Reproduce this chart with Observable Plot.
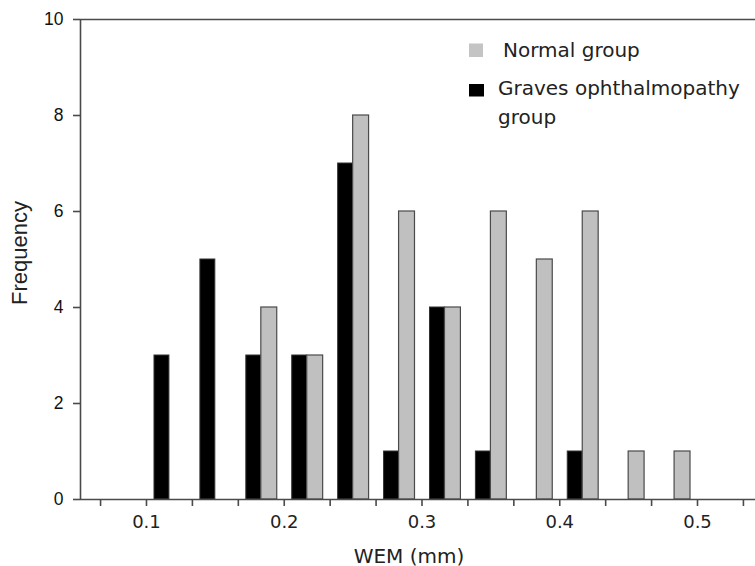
<!DOCTYPE html>
<html><head><meta charset="utf-8">
<script src="https://cdn.jsdelivr.net/npm/d3@7"></script>
<script src="https://cdn.jsdelivr.net/npm/@observablehq/plot@0.6"></script>
<style>
html,body{margin:0;padding:0;background:#fff;}
#wrap{position:relative;width:755px;height:566px;overflow:hidden;}
#wrap svg{position:absolute;left:0;top:0;}
</style></head><body><div id="wrap"></div>
<script>
// Histogram bins (lower edges, mm) of width 1/30 mm
const binStart = [3/30, 4/30, 5/30, 6/30, 7/30, 8/30, 9/30, 10/30, 11/30, 12/30, 13/30, 14/30];
const binWidth = 1/30;
const gravesCounts = [3, 5, 3, 3, 7, 1, 4, 1, 0, 1, 0, 0];
const normalCounts = [0, 0, 4, 3, 8, 6, 4, 6, 5, 6, 1, 1];
const xTickValues = [0.1, 0.2, 0.3, 0.4, 0.5];
const xTickLabels = ["0.1", "0.2", "0.3", "0.4", "0.5"];
const xMinorTicks = [2/30, 3/30, 4/30, 5/30, 6/30, 7/30, 8/30, 9/30, 10/30, 11/30, 12/30, 13/30, 14/30, 15/30, 16/30];
const yTickValues = [0, 2, 4, 6, 8, 10];
const seriesNames = ["Normal group", "Graves ophthalmopathy group"];
const xTitle = "WEM (mm)";
const yTitle = "Frequency";

const W = 755, H = 566;
const axisColor = "#4a4a4a";

const graves = binStart.map((x0, i) => ({x0, x1: x0 + binWidth, v: gravesCounts[i]})).filter(d => d.v > 0);
const normal = binStart.map((x0, i) => ({x0, x1: x0 + binWidth, v: normalCounts[i]})).filter(d => d.v > 0);

const chart = Plot.plot({
  width: W, height: H,
  marginLeft: 80, marginRight: 0, marginTop: 19, marginBottom: 67,
  style: {background: "transparent", color: "#222", fontFamily: "DejaVu Sans"},
  x: {domain: [0.0521, 0.5421]},
  y: {domain: [0, 10]},
  marks: [
    Plot.rect(graves, {x1: "x0", x2: "x1", y1: 0, y2: "v", fill: "#000", stroke: "#333", strokeWidth: 1, insetLeft: 8, insetRight: 23}),
    Plot.rect(normal, {x1: "x0", x2: "x1", y1: 0, y2: "v", fill: "#c0c0c0", stroke: "#4a4a4a", strokeWidth: 1.2, insetLeft: 23, insetRight: 7}),
    Plot.ruleY([0], {stroke: axisColor, strokeWidth: 1.6}),
    Plot.ruleY([10], {stroke: axisColor, strokeWidth: 1.6}),
    Plot.ruleX([0.0521], {stroke: axisColor, strokeWidth: 1.6}),
    Plot.axisX({ticks: xMinorTicks, tickFormat: () => "", tickSize: 7, stroke: axisColor, strokeWidth: 1.6, label: null}),
    Plot.axisX({ticks: xTickValues, tickFormat: (d, i) => xTickLabels[i], tickSize: 0, tickPadding: 16, fontSize: 18, fontFamily: "DejaVu Sans", fill: "#222", label: null}),
    Plot.axisY({ticks: yTickValues, tickSize: 7, tickPadding: 10, stroke: axisColor, strokeWidth: 1.6, fontSize: 17.5, fontFamily: "Liberation Sans", fill: "#111", label: null})
  ]
});
const wrap = document.getElementById("wrap");
wrap.appendChild(chart);

// titles and legend overlay
const ov = d3.select(wrap).append("svg").attr("width", W).attr("height", H).style("pointer-events", "none");
ov.append("text").attr("transform", "translate(19,253) rotate(-90)")
  .attr("text-anchor", "middle").attr("dominant-baseline", "central")
  .style("font-family", "Liberation Sans").style("font-size", "22px").attr("fill", "#222").text(yTitle);
ov.append("text").attr("x", 409).attr("y", 562.5).attr("text-anchor", "middle")
  .style("font-family", "DejaVu Sans").style("font-size", "20px").attr("fill", "#222").text(xTitle);

const lg = ov.append("g").style("font-family", "DejaVu Sans").style("font-size", "20px").attr("fill", "#222");
lg.append("rect").attr("x", 469).attr("y", 43.5).attr("width", 14).attr("height", 13.5).attr("fill", "#c4c4c4");
lg.append("text").attr("x", 503).attr("y", 56.7).text(seriesNames[0]);
lg.append("rect").attr("x", 469).attr("y", 84).attr("width", 15).attr("height", 12.5).attr("fill", "#000");
const words = seriesNames[1].split(" ");
lg.append("text").attr("x", 498).attr("y", 94.5).text(words.slice(0, 2).join(" "));
lg.append("text").attr("x", 498).attr("y", 124).text(words[2]);
</script>
</body></html>
